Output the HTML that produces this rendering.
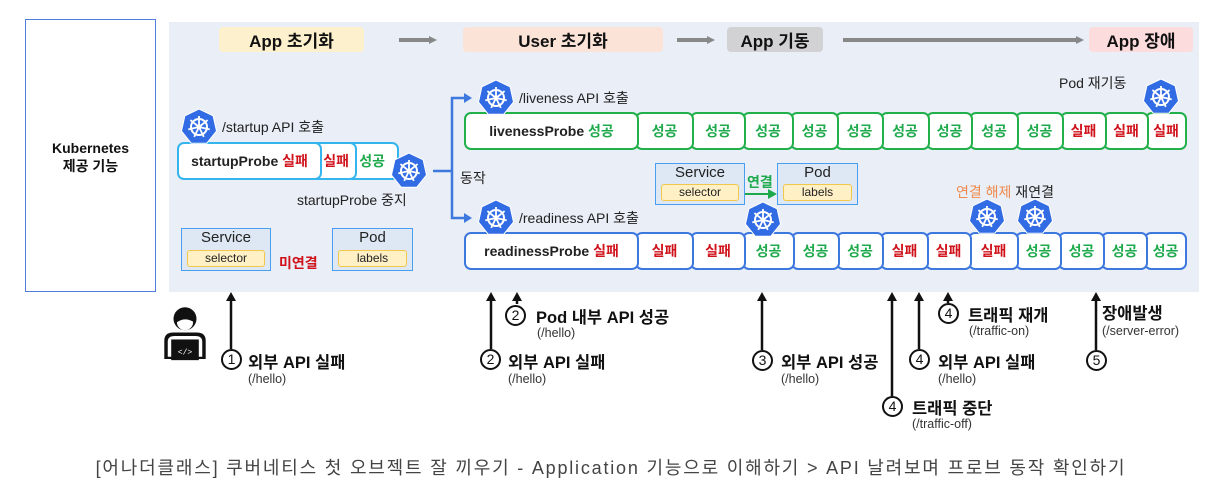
<!DOCTYPE html>
<html><head><meta charset="utf-8">
<style>
*{margin:0;padding:0;box-sizing:border-box}
body{width:1222px;height:498px;background:#fff;position:relative;overflow:hidden;font-family:"Liberation Sans","Noto Sans CJK KR",sans-serif;color:#222}
.a{position:absolute}
.t{position:absolute;white-space:nowrap}
.cell{position:absolute;background:#fff;border-radius:7px;display:flex;align-items:center;justify-content:center;font-weight:bold;font-size:14px}
.ok{color:#1eaa4c}.ng{color:#d0121b}
.hd{position:absolute;height:25px;border-radius:4px;font-weight:bold;font-size:17px;display:flex;align-items:center;justify-content:center;color:#111}
.box{position:absolute;background:#dde8f4;border:1.5px solid #4a9ef0;text-align:center;font-size:15px;color:#222}
.lab{position:absolute;left:5px;right:5px;bottom:3px;height:17px;background:#fff0c6;border:1.5px solid #f3c84a;border-radius:3px;font-size:12px;line-height:14px}
.num{position:absolute;width:21px;height:21px;border:2px solid #111;border-radius:50%;font-size:14px;line-height:17px;text-align:center;background:#fff;color:#111}
.big{font-weight:bold;font-size:16.5px;color:#111}
.sm{font-size:12.5px;color:#333}
</style></head><body>
<div class="a" style="left:25px;top:19px;width:131px;height:273px;border:1.5px solid #4f7fd9"></div>
<div class="t" style="left:25px;top:139px;width:131px;text-align:center;font-weight:bold;font-size:14px;line-height:18px;color:#111">Kubernetes<br>제공 기능</div>
<div class="a" style="left:169px;top:22px;width:1030px;height:270px;background:#e9eef7"></div>

<div class="hd" style="left:219px;top:27px;width:145px;background:#fdf0cc">App 초기화</div>
<div class="hd" style="left:463px;top:27px;width:200px;background:#fbe3d8">User 초기화</div>
<div class="hd" style="left:727px;top:27px;width:96px;background:#d2d2d4">App 기동</div>
<div class="hd" style="left:1089px;top:27px;width:104px;background:#fcdcdc">App 장애</div>
<svg class="a" style="left:0;top:0" width="1222" height="498">
<g fill="#888" stroke="#888" stroke-width="4">
<line x1="399" y1="40" x2="430" y2="40"/><line x1="677" y1="40" x2="708" y2="40"/><line x1="843" y1="40" x2="1077" y2="40"/>
</g>
<g fill="#888"><polygon points="429,36 437,40 429,44"/><polygon points="707,36 715,40 707,44"/><polygon points="1076,36 1084,40 1076,44"/></g>
<g stroke="#3d78de" stroke-width="2.5" fill="none"><polyline points="433,171 452,171"/><polyline points="466,98 452,98 452,218 466,218"/></g>
<g fill="#3d78de"><polygon points="464,93 472,98 464,103"/><polygon points="464,213 472,218 464,223"/></g>
<line x1="745" y1="194" x2="770" y2="194" stroke="#1eaa4c" stroke-width="2"/><polygon points="768,189 777,194 768,199" fill="#1eaa4c"/>
<g stroke="#111" stroke-width="2.5">
<line x1="231" y1="300" x2="231" y2="349"/><line x1="491" y1="300" x2="491" y2="349"/><line x1="517" y1="300" x2="517" y2="304"/>
<line x1="762" y1="300" x2="762" y2="350"/><line x1="892" y1="300" x2="892" y2="396"/><line x1="919" y1="300" x2="919" y2="349"/>
<line x1="948" y1="300" x2="948" y2="303"/><line x1="1096" y1="300" x2="1096" y2="350"/>
</g>
<g fill="#111">
<polygon points="226,301 231,292 236,301"/><polygon points="486,301 491,292 496,301"/><polygon points="512,301 517,292 522,301"/>
<polygon points="757,301 762,292 767,301"/><polygon points="887,301 892,292 897,301"/><polygon points="914,301 919,292 924,301"/>
<polygon points="943,301 948,292 953,301"/><polygon points="1091,301 1096,292 1101,301"/>
</g>
<g transform="translate(185,336) scale(1.15)">
<circle cx="0" cy="-15" r="10" fill="#111"/><circle cx="0" cy="-12" r="7" fill="#fff"/><path d="M-7,-18 Q0,-26 8,-16 L8,-12 Q0,-17 -7,-12Z" fill="#111"/>
<path d="M-18,20 L-18,4 Q-18,-3 -10,-3 L10,-3 Q18,-3 18,4 L18,20Z" fill="#111"/><path d="M-15,18 L-15,5 Q-15,0 -9,0 L9,0 Q15,0 15,5 L15,18Z" fill="#fff"/>
<rect x="-12" y="3" width="24" height="18" fill="#111"/><text x="0" y="16" fill="#fff" font-size="7" text-anchor="middle" font-family="Liberation Mono">&lt;/&gt;</text>
</g>
</svg>

<div class="t" style="left:222px;top:117px;font-size:14px">/startup API 호출</div>
<div class="cell" style="left:315px;top:142px;width:84px;height:38px;border:2px solid #35b5ee;justify-content:flex-end;padding-right:12px"><span class="ok">성공</span></div>
<div class="cell" style="left:280px;top:142px;width:77px;height:38px;border:2px solid #35b5ee;justify-content:flex-end;padding-right:6px"><span class="ng">실패</span></div>
<div class="cell" style="left:177px;top:142px;width:145px;height:38px;border:2px solid #35b5ee">startupProbe&nbsp;<span class="ng">실패</span></div>
<div class="t" style="left:297px;top:190px;font-size:14px">startupProbe 중지</div>
<div class="t" style="left:460px;top:168px;font-size:14px">동작</div>

<div class="box" style="left:181px;top:228px;width:90px;height:43px">Service<div class="lab">selector</div></div>
<div class="t" style="left:279px;top:253px;font-weight:bold;font-size:14px;color:#d0121b">미연결</div>
<div class="box" style="left:332px;top:228px;width:81px;height:43px">Pod<div class="lab">labels</div></div>

<div class="t" style="left:519px;top:88px;font-size:14px">/liveness API 호출</div>
<div class="t" style="left:519px;top:208px;font-size:14px">/readiness API 호출</div>
<div class="t" style="left:1059px;top:73px;font-size:14px">Pod 재기동</div>

<div class="box" style="left:655px;top:163px;width:90px;height:42px">Service<div class="lab">selector</div></div>
<div class="t" style="left:747px;top:172px;font-weight:bold;font-size:14px;color:#1eaa4c">연결</div>
<div class="box" style="left:777px;top:163px;width:81px;height:42px">Pod<div class="lab">labels</div></div>
<div class="t" style="left:956px;top:182px;font-size:14px"><span style="color:#f08a4b">연결 해제</span> 재연결</div>

<div id="rows"></div>

<div class="num" style="left:221px;top:349px">1</div>
<div class="t big" style="left:248px;top:349px">외부 API 실패</div><div class="t sm" style="left:248px;top:372px">(/hello)</div>
<div class="num" style="left:505px;top:305px">2</div>
<div class="t big" style="left:536px;top:304px">Pod 내부 API 성공</div><div class="t sm" style="left:537px;top:326px">(/hello)</div>
<div class="num" style="left:480px;top:349px">2</div>
<div class="t big" style="left:508px;top:349px">외부 API 실패</div><div class="t sm" style="left:508px;top:372px">(/hello)</div>
<div class="num" style="left:752px;top:350px">3</div>
<div class="t big" style="left:781px;top:349px">외부 API 성공</div><div class="t sm" style="left:781px;top:372px">(/hello)</div>
<div class="num" style="left:882px;top:396px">4</div>
<div class="t big" style="left:912px;top:395px">트래픽 중단</div><div class="t sm" style="left:912px;top:417px">(/traffic-off)</div>
<div class="num" style="left:909px;top:349px">4</div>
<div class="t big" style="left:938px;top:349px">외부 API 실패</div><div class="t sm" style="left:938px;top:372px">(/hello)</div>
<div class="num" style="left:938px;top:303px">4</div>
<div class="t big" style="left:968px;top:302px">트래픽 재개</div><div class="t sm" style="left:969px;top:324px">(/traffic-on)</div>
<div class="num" style="left:1086px;top:350px">5</div>
<div class="t big" style="left:1102px;top:300px">장애발생</div><div class="t sm" style="left:1102px;top:324px">(/server-error)</div>

<div class="t" style="left:0;width:1222px;top:454px;text-align:center;font-size:18px;color:#444;letter-spacing:1.8px">[어나더클래스] 쿠버네티스 첫 오브젝트 잘 끼우기 - Application 기능으로 이해하기 &gt; API 날려보며 프로브 동작 확인하기</div>

<script>
var H='';
function row(top,col,first,firstTxt,divs,vals){
  for(var i=divs.length-2;i>=0;i--){
    var l=divs[i],w=divs[i+1]-divs[i]+4;
    var v=vals[i];
    H+='<div class="cell" style="left:'+l+'px;top:'+top+'px;width:'+w+'px;height:38px;border:2px solid '+col+'"><span class="'+(v=='성공'?'ok':'ng')+'">'+v+'</span></div>';
  }
  H+='<div class="cell" style="left:464px;top:'+top+'px;width:175px;height:38px;border:2px solid '+col+'">'+first+'&nbsp;<span class="'+(firstTxt=='성공'?'ok':'ng')+'">'+firstTxt+'</span></div>';
}
var S='성공',F='실패';
row(112,'#22b04b','livenessProbe',S,[635,690,742,790,835,880,926,969,1015,1060,1103,1145,1183],[S,S,S,S,S,S,S,S,S,F,F,F]);
row(232,'#3d78de','readinessProbe',F,[635,690,742,791,836,880,925,968,1015,1058,1101,1144,1183],[F,F,S,S,S,F,F,F,S,S,S,S]);
function helm(cx,cy){
  var p=[];for(var k=0;k<7;k++){var a=-Math.PI/2+k*2*Math.PI/7;p.push((cx+18*Math.cos(a)).toFixed(1)+','+(cy+18*Math.sin(a)).toFixed(1));}
  var s='<polygon points="'+p.join(' ')+'" fill="#326ce5" stroke="#fff" stroke-width="1"/>';
  s+='<circle cx="'+cx+'" cy="'+cy+'" r="8" fill="none" stroke="#fff" stroke-width="2"/><circle cx="'+cx+'" cy="'+cy+'" r="2.5" fill="#fff"/>';
  for(var k=0;k<7;k++){var a=-Math.PI/2+k*2*Math.PI/7;s+='<line x1="'+cx+'" y1="'+cy+'" x2="'+(cx+11*Math.cos(a)).toFixed(1)+'" y2="'+(cy+11*Math.sin(a)).toFixed(1)+'" stroke="#fff" stroke-width="1.8"/>';}
  return s;
}
var g='';[[199,127],[409,171],[496,98],[496,218],[763,220],[987,217],[1035,217],[1161,97]].forEach(function(c){g+=helm(c[0],c[1]);});
H+='<svg class="a" style="left:0;top:0" width="1222" height="300">'+g+'</svg>';
document.getElementById('rows').innerHTML=H;
</script>
</body></html>
